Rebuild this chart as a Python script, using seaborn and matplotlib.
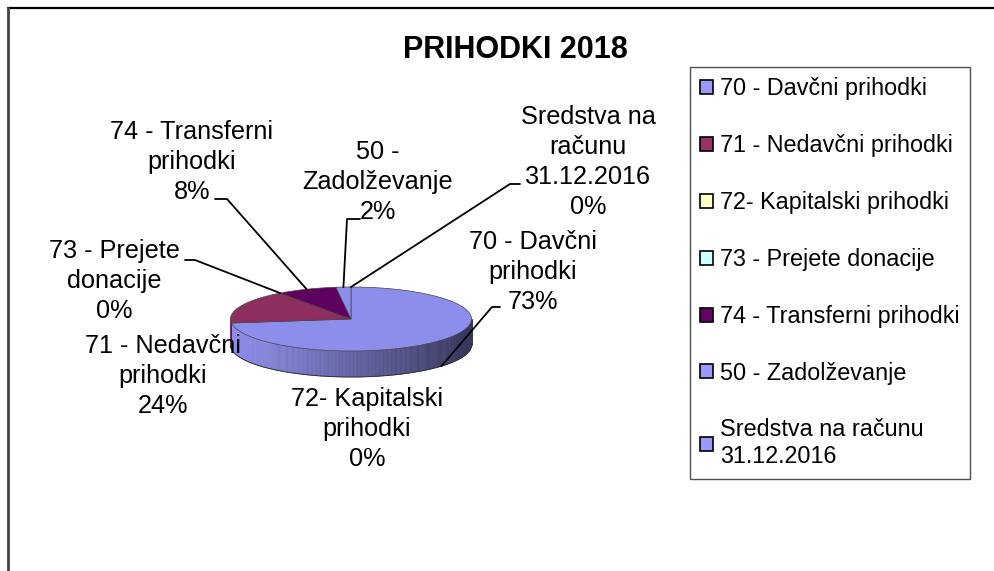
import numpy as np
import matplotlib
matplotlib.use("Agg")
import matplotlib.pyplot as plt
from matplotlib.patches import Polygon, Patch
import matplotlib.colors as mcolors
import seaborn as sns

# data
categories = ["70 - Davčni prihodki", "71 - Nedavčni prihodki", "72- Kapitalski prihodki",
              "73 - Prejete donacije", "74 - Transferni prihodki", "50 - Zadolževanje",
              "Sredstva na računu\n31.12.2016"]
label_names = ["70 - Davčni\nprihodki", "71 - Nedavčni\nprihodki", "72- Kapitalski\nprihodki",
               "73 - Prejete\ndonacije", "74 - Transferni\nprihodki", "50 -\nZadolževanje",
               "Sredstva na\nračunu\n31.12.2016"]
shares = [73, 17, 0, 0, 8, 2, 0]          # slice sizes as drawn
pct_labels = ["73%", "24%", "0%", "0%", "8%", "2%", "0%"]   # as printed on the labels
colors = ["#9999FF", "#993366", "#FFFFCC", "#CCFFFF", "#660066", "#9999FF", "#9999FF"]

sns.set_theme(style="white")
plt.rcParams["font.family"] = ["Liberation Sans", "DejaVu Sans"]
plt.rcParams["text.color"] = "black"

fig = plt.figure(figsize=(9.95, 5.71), dpi=100)
ax = fig.add_axes([0, 0, 1, 1])
ax.set_xlim(0, 995)
ax.set_ylim(571, 0)
ax.axis("off")

# pie geometry (pixels)
cx, cy, rx, ry, depth = 351, 319, 120.5, 32, 26


def pt(theta, drop=0.0):
    t = np.radians(theta)
    return cx + rx * np.cos(t), cy - ry * np.sin(t) + drop


def shade(c, f):
    r, g, b = mcolors.to_rgb(c)
    return (r * f, g * f, b * f)


vals = np.array(shares, dtype=float)
fr = vals / vals.sum()
ends = 90 - 360 * np.cumsum(fr)
starts = np.concatenate([[90], ends[:-1]])

# side walls, front half only (sin < 0)
for s, e, c, v in zip(starts, ends, colors, vals):
    if v <= 0:
        continue
    th = np.linspace(s, e, 400)
    for a, b in zip(th[:-1], th[1:]):
        m = (a + b) / 2
        if np.sin(np.radians(m)) >= 0:
            continue
        k = (np.cos(np.radians(m)) + 1) / 2
        f = 0.93 - 0.58 * k
        x1, y1 = pt(a)
        x2, y2 = pt(b)
        ax.add_patch(Polygon([(x1, y1), (x2, y2), (x2, y2 + depth), (x1, y1 + depth)],
                             closed=True, facecolor=shade(c, f), edgecolor=shade(c, f),
                             linewidth=0.4, zorder=2))

# outline of the side wall
th = np.linspace(180, 360, 200)
bx, by = pt(th, depth)
ax.plot(bx, by, color="#333333", lw=0.7, zorder=3)
ax.plot([cx - rx, cx - rx], [cy, cy + depth], color="#333333", lw=0.7, zorder=3)
ax.plot([cx + rx, cx + rx], [cy, cy + depth], color="#333333", lw=0.7, zorder=3)

# top face
for s, e, c, v in zip(starts, ends, colors, vals):
    if v <= 0:
        continue
    th = np.linspace(s, e, 200)
    xs, ys = pt(th)
    verts = [(cx, cy)] + list(zip(xs, ys))
    ax.add_patch(Polygon(verts, closed=True, facecolor=shade(c, 0.92),
                         edgecolor="#444444", linewidth=0.5, zorder=4))

# labels and leader lines
label_pos = [(533, 272), (163, 376), (367, 429), (114, 281), (192, 162), (378, 182), (588, 162)]
elbows = [[(500, 307), (492, 307)], None, None, [(185, 260), (195, 260)],
          [(215, 199), (227, 199)], [(360, 219), (347, 219)], [(520, 184), (510, 184)]]
for i, name in enumerate(label_names):
    x, y = label_pos[i]
    ax.text(x, y, name + "\n" + pct_labels[i], ha="center", va="center", fontsize=18.2,
            linespacing=1.3, color="black", zorder=6)
    if elbows[i] is None:
        continue
    mid = (starts[i] + ends[i]) / 2
    ex, ey = pt(mid)
    if np.sin(np.radians(mid)) < 0:
        ey += depth
    pts = elbows[i] + [(ex, ey)]
    ax.plot([p[0] for p in pts], [p[1] for p in pts], color="black", lw=1.3, zorder=5)

ax.text(515, 50, "PRIHODKI 2018", ha="center", va="center", fontsize=22,
        fontweight="bold", color="black")

# outer frame (only top and left visible)
ax.plot([8, 995], [8, 8], color="black", lw=1.6)
ax.plot([8, 8], [8, 571], color="#444444", lw=2)

handles = [Patch(facecolor=c, edgecolor="black", linewidth=1.2) for c in colors]
leg = fig.legend(handles, categories, loc="upper left", bbox_to_anchor=(690 / 995, 1 - 67 / 571),
                 fontsize=16.8, frameon=True, fancybox=False, borderaxespad=0,
                 handlelength=0.55, handleheight=0.55, handletextpad=0.3,
                 labelspacing=1.45, borderpad=0.45, labelcolor="black")
leg.get_frame().set_edgecolor("#222222")
leg.get_frame().set_linewidth(1.0)

fig.savefig("out.png", dpi=100)
